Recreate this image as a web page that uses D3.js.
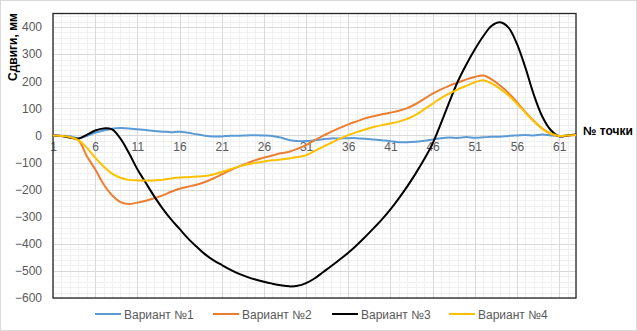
<!DOCTYPE html>
<html><head><meta charset="utf-8">
<script src="https://cdn.jsdelivr.net/npm/d3@7"></script>
<style>body{margin:0;background:#fff}svg{display:block}</style>
</head><body>
<script>
const points = d3.range(1, 64);
const seriesNames = ["Вариант №1", "Вариант №2", "Вариант №3", "Вариант №4"];
const seriesColors = ["#5b9bd5", "#ed7d31", "#000000", "#ffc000"];
const variant1 = [0,-1,-3,-10,-2,10,18,25,27,26,23,20,16,14,12,14,10,4,-1,-4,-4,-1,-1,0,1,0,-2,-8,-17,-21,-21,-18,-14,-11,-11,-10,-10,-12,-15,-18,-21,-25,-25,-23,-20,-15,-10,-8,-9,-6,-9,-7,-5,-5,-2,0,2,0,3,0,-2,0,2];
const variant2 = [0,-2,-8,-18,-76,-125,-180,-221,-246,-253,-248,-241,-232,-221,-208,-197,-189,-182,-172,-159,-144,-129,-115,-103,-91,-82,-74,-66,-60,-49,-36,-18,-2,14,28,41,52,63,71,78,84,91,101,116,135,154,170,184,195,207,216,221,207,184,157,123,86,53,25,6,-2,0,2];
const variant3 = [0,-2,-8,-12,2,18,26,22,-12,-65,-125,-175,-225,-270,-310,-345,-380,-410,-438,-460,-478,-495,-510,-522,-532,-540,-547,-553,-557,-555,-545,-528,-505,-482,-458,-433,-405,-375,-343,-310,-273,-232,-188,-140,-88,-30,45,125,200,262,317,366,405,418,398,338,250,150,70,20,-3,0,3];
const variant4 = [0,-2,-6,-17,-45,-82,-115,-141,-156,-164,-166,-166,-166,-164,-159,-155,-154,-152,-150,-144,-135,-125,-115,-107,-101,-96,-92,-89,-85,-80,-73,-58,-42,-27,-12,1,12,22,31,38,44,51,61,76,96,117,138,155,170,183,196,204,192,172,148,117,84,52,25,7,-2,0,2];
const xTicks = [1,6,11,16,21,26,31,36,41,46,51,56,61];
const yTicks = [-600,-500,-400,-300,-200,-100,0,100,200,300,400];
const yTitle = "Сдвиги, мм";
const xTitle = "№ точки";

const W = 637, H = 331;
const L = 53, R = 576, T = 13.5, B = 298;
const svg = d3.select("body").append("svg").attr("width", W).attr("height", H);
svg.append("rect").attr("x",0.5).attr("y",0.5).attr("width",W-1).attr("height",H-1)
  .attr("fill","#fff").attr("stroke","#d9d9d9");

const x = d3.scaleLinear().domain([1, 63]).range([L, R]);
const y = d3.scaleLinear().domain([-600, 450]).range([B, T]);

const g = svg.append("g");
// minor grid
g.selectAll(".vmin").data(points).enter().append("line")
  .attr("x1", d=>Math.round(x(d))+0.5).attr("x2", d=>Math.round(x(d))+0.5)
  .attr("y1", T).attr("y2", B).attr("stroke", "#f0f0f0");
g.selectAll(".hmin").data(d3.range(-600, 451, 20)).enter().append("line")
  .attr("y1", d=>Math.round(y(d))+0.5).attr("y2", d=>Math.round(y(d))+0.5)
  .attr("x1", L).attr("x2", R).attr("stroke", "#f0f0f0");
// major grid
g.selectAll(".vmaj").data(xTicks).enter().append("line")
  .attr("x1", d=>Math.round(x(d))+0.5).attr("x2", d=>Math.round(x(d))+0.5)
  .attr("y1", T).attr("y2", B).attr("stroke", "#d9d9d9");
g.selectAll(".hmaj").data(yTicks).enter().append("line")
  .attr("y1", d=>Math.round(y(d))+0.5).attr("y2", d=>Math.round(y(d))+0.5)
  .attr("x1", L).attr("x2", R).attr("stroke", "#d9d9d9");

// y axis labels
const yAxis = d3.axisLeft(y).tickValues(yTicks).tickSize(0).tickPadding(11);
const ya = svg.append("g").attr("transform", `translate(${L},0)`).call(yAxis);
ya.select(".domain").remove();
ya.selectAll("text").attr("font-family","Liberation Sans, Arial, sans-serif").attr("font-size","12px").attr("fill","#595959");

// x axis labels at zero line
const xAxis = d3.axisBottom(x).tickValues(xTicks).tickSize(0).tickPadding(6);
const xa = svg.append("g").attr("transform", `translate(0,${y(0)+1})`).call(xAxis);
xa.select(".domain").remove();
xa.selectAll("text").attr("font-family","Liberation Sans, Arial, sans-serif").attr("font-size","12px").attr("fill","#595959");

// plot border
svg.append("rect").attr("x", L).attr("y", T).attr("width", R-L).attr("height", B-T)
  .attr("fill","none").attr("stroke","#262626").attr("stroke-width",1.3);

const data = [variant1, variant2, variant3, variant4];
const line = d3.line().x((d,i)=>x(points[i])).y(d=>y(d)).curve(d3.curveCatmullRom.alpha(0.5));
data.forEach((s, k) => {
  svg.append("path").datum(s).attr("d", line).attr("fill","none")
    .attr("stroke", seriesColors[k]).attr("stroke-width", 2).attr("stroke-linejoin","round");
});

// titles
svg.append("text").attr("transform", `translate(17,47) rotate(-90)`).attr("text-anchor","middle")
  .attr("font-family","Liberation Sans, Arial, sans-serif").attr("font-size","12px").attr("font-weight","bold")
  .attr("fill","#000").text(yTitle);
svg.append("text").attr("x", 583).attr("y", 135).attr("font-family","Liberation Sans, Arial, sans-serif")
  .attr("font-size","12px").attr("font-weight","bold").attr("fill","#000").text(xTitle);

// legend
const legX = [95, 213, 332, 449];
const legY = 314;
seriesNames.forEach((n, k) => {
  svg.append("line").attr("x1", legX[k]).attr("x2", legX[k]+26).attr("y1", legY).attr("y2", legY)
    .attr("stroke", seriesColors[k]).attr("stroke-width", 2);
  svg.append("text").attr("x", legX[k]+29).attr("y", legY+4.5)
    .attr("font-family","Liberation Sans, Arial, sans-serif").attr("font-size","12px").attr("fill","#595959").text(n);
});
</script>
</body></html>
